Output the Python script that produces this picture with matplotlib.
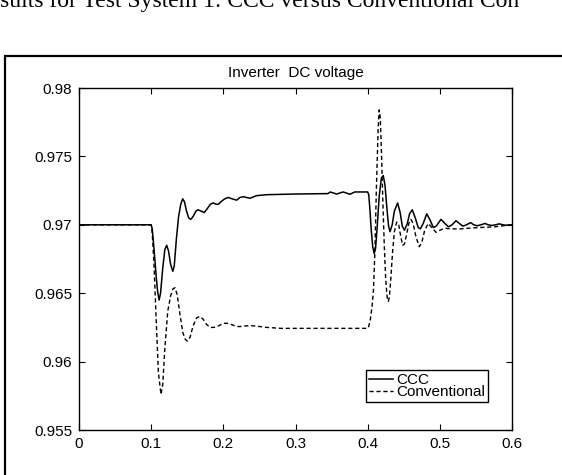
import matplotlib
matplotlib.use("Agg")
import matplotlib.pyplot as plt
from matplotlib.patches import Rectangle

plt.rcParams['font.family'] = ['Liberation Sans', 'DejaVu Sans']

# CCC response (solid)
ccc_t = [0.000, 0.100, 0.1015, 0.104, 0.107, 0.109, 0.111, 0.113, 0.116, 0.119,
         0.1215, 0.124, 0.127, 0.130, 0.132, 0.135, 0.138, 0.141, 0.1437, 0.146,
         0.149, 0.152, 0.155, 0.158, 0.162, 0.165, 0.169, 0.1737, 0.178, 0.182,
         0.186, 0.190, 0.193, 0.197, 0.202, 0.207, 0.212, 0.2185, 0.223, 0.2277,
         0.232, 0.237, 0.246, 0.260, 0.300, 0.345, 0.348, 0.357, 0.366, 0.3755,
         0.382, 0.400, 0.4015, 0.403, 0.405, 0.407, 0.409, 0.411, 0.413, 0.416,
         0.419, 0.4216, 0.424, 0.427, 0.429, 0.431, 0.434, 0.437, 0.4415, 0.445,
         0.448, 0.451, 0.455, 0.458, 0.4618, 0.466, 0.470, 0.473, 0.477, 0.4818,
         0.486, 0.491, 0.495, 0.5016, 0.507, 0.512, 0.517, 0.5224, 0.527, 0.532,
         0.537, 0.5427, 0.547, 0.552, 0.557, 0.5626, 0.567, 0.572, 0.577, 0.5824,
         0.587, 0.592, 0.600]
ccc_v = [0.9700, 0.9700, 0.9697, 0.9682, 0.9662, 0.9651, 0.9645, 0.9650, 0.9668, 0.9682,
         0.9685, 0.9681, 0.9671, 0.9666, 0.9670, 0.9690, 0.9706, 0.9715, 0.9719, 0.9717,
         0.9710, 0.9705, 0.9704, 0.9706, 0.9710, 0.9711, 0.9710, 0.9709, 0.9712, 0.9715,
         0.9716, 0.9715, 0.9715, 0.9717, 0.9719, 0.9720, 0.9719, 0.9718, 0.9720, 0.97205,
         0.9720, 0.97194, 0.97213, 0.9722, 0.97225, 0.97228, 0.9724, 0.97225, 0.9724, 0.97223,
         0.9724, 0.9724, 0.9722, 0.9712, 0.9696, 0.9684, 0.9679, 0.9683, 0.9697, 0.9721,
         0.9734, 0.9736, 0.9729, 0.9710, 0.9699, 0.9695, 0.9700, 0.9710, 0.9716, 0.9709,
         0.9699, 0.9696, 0.9701, 0.9708, 0.9711, 0.9705, 0.9698, 0.9697, 0.9701, 0.9708,
         0.9704, 0.9698, 0.9699, 0.9704, 0.9701, 0.96985, 0.9700, 0.9703, 0.9701, 0.9699,
         0.9700, 0.97016, 0.9700, 0.96993, 0.9700, 0.9701, 0.9700, 0.96995, 0.9700, 0.97007,
         0.9700, 0.96997, 0.9700]

# Conventional response (dashed)
conv_t = [0.000, 0.100, 0.1015, 0.104, 0.107, 0.110, 0.1136, 0.116, 0.119, 0.123,
          0.127, 0.130, 0.133, 0.136, 0.140, 0.144, 0.1475, 0.1506, 0.154, 0.158,
          0.163, 0.1677, 0.172, 0.177, 0.182, 0.187, 0.193, 0.200, 0.2055, 0.212,
          0.218, 0.223, 0.229, 0.237, 0.245, 0.260, 0.280, 0.400, 0.401, 0.4035,
          0.406, 0.408, 0.410, 0.412, 0.4145, 0.416, 0.4175, 0.419, 0.421, 0.423,
          0.425, 0.427, 0.4286, 0.430, 0.432, 0.4345, 0.437, 0.4402, 0.443, 0.446,
          0.4485, 0.451, 0.454, 0.457, 0.460, 0.463, 0.467, 0.4716, 0.475, 0.479,
          0.484, 0.489, 0.4947, 0.500, 0.5071, 0.515, 0.528, 0.540, 0.555, 0.575,
          0.600]
conv_v = [0.9700, 0.9700, 0.9694, 0.9670, 0.9630, 0.9592, 0.9576, 0.9583, 0.9610, 0.9637,
          0.9648, 0.9653, 0.9654, 0.9649, 0.9634, 0.9621, 0.9616, 0.9615, 0.9618, 0.9626,
          0.9632, 0.9633, 0.9631, 0.9627, 0.9625, 0.9625, 0.9626, 0.9628, 0.9628, 0.9627,
          0.96257, 0.96256, 0.9626, 0.96263, 0.9626, 0.9625, 0.96243, 0.96243, 0.9625, 0.9630,
          0.9640, 0.9652, 0.9680, 0.9725, 0.9770, 0.9784, 0.9778, 0.9755, 0.9718, 0.9685,
          0.9660, 0.9647, 0.9644, 0.9647, 0.9660, 0.9680, 0.9695, 0.9702, 0.9700, 0.9691,
          0.9685, 0.9686, 0.9693, 0.9701, 0.9704, 0.9701, 0.9691, 0.9684, 0.9687, 0.9696,
          0.9701, 0.9698, 0.96945, 0.9696, 0.96975, 0.9697, 0.9697, 0.96975, 0.9698, 0.96985,
          0.9700]

x_ticks = [0, 0.1, 0.2, 0.3, 0.4, 0.5, 0.6]
x_labels = ['0', '0.1', '0.2', '0.3', '0.4', '0.5', '0.6']
y_ticks = [0.955, 0.96, 0.965, 0.97, 0.975, 0.98]
y_labels = ['0.955', '0.96', '0.965', '0.97', '0.975', '0.98']

fig = plt.figure(figsize=(5.62, 4.75), dpi=100)

# caption of the page, cut off at the top
fig.text(0.0, 1 - 6.5 / 475, 'sults for Test System 1: CCC versus Conventional Con',
         family='Liberation Serif', fontsize=17, va='baseline', ha='left')

# outer frame around the figure, running off the right and bottom edges
fig.patches.append(Rectangle((5 / 562, -0.1), 1.2, 1 - 56 / 475 + 0.1,
                             transform=fig.transFigure, fill=False,
                             edgecolor='black', linewidth=1.6))

ax = fig.add_axes([79 / 562, 45 / 475, 433 / 562, 342 / 475])
ax.plot(ccc_t, ccc_v, color='black', linewidth=1.1, label='CCC')
ax.plot(conv_t, conv_v, color='black', linewidth=1.0, linestyle=(0, (3, 2)),
        label='Conventional')

ax.set_xlim(0, 0.6)
ax.set_ylim(0.955, 0.98)
ax.set_xticks(x_ticks)
ax.set_xticklabels(x_labels)
ax.set_yticks(y_ticks)
ax.set_yticklabels(y_labels)
ax.tick_params(direction='in', length=4, width=0.8, top=True, right=True,
               labelsize=11, pad=5)
for s in ax.spines.values():
    s.set_linewidth(1.0)
ax.set_title('Inverter  DC voltage', fontsize=11, pad=8)

leg = ax.legend(loc='lower right', bbox_to_anchor=(0.9446, 0.0819), fontsize=11,
                handlelength=1.6, handletextpad=0.2, labelspacing=-0.15,
                borderpad=0.2, borderaxespad=0, fancybox=False, framealpha=1)
leg.get_frame().set_edgecolor('black')
leg.get_frame().set_linewidth(1.0)

fig.savefig('out.png', dpi=100)
